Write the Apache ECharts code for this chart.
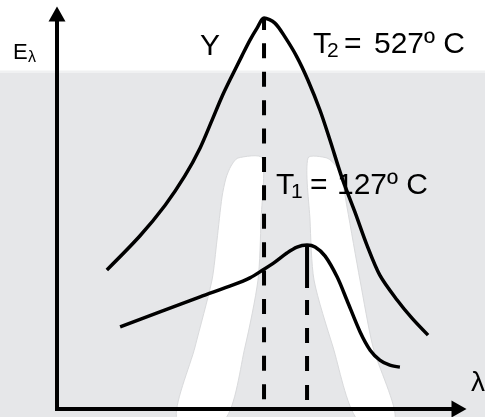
<!DOCTYPE html>
<html>
<head>
<meta charset="utf-8">
<script src="https://cdn.jsdelivr.net/npm/echarts@6/dist/echarts.min.js"></script>
<style>
  html, body { margin: 0; padding: 0; background: #fff; }
  #chart { width: 485px; height: 417px; }
</style>
</head>
<body>
<div id="chart"></div>
<script>
// Spectral emissive power E_λ against wavelength λ for two temperatures (arbitrary units)
const lambdaT2   = [1.24, 2.06, 2.69, 3.18, 3.56, 3.86, 4.10, 4.35, 4.60, 4.80, 4.98, 5.15, 5.42, 5.67, 5.97, 6.24, 6.54, 6.79, 7.09, 7.41, 7.71, 8.03, 8.46, 8.83, 9.23];
const emissionT2 = [3.52, 4.38, 5.16, 5.90, 6.61, 7.32, 7.90, 8.43, 8.94, 9.34, 9.65, 9.90, 9.77, 9.42, 8.91, 8.33, 7.57, 6.81, 5.85, 4.99, 4.15, 3.39, 2.76, 2.30, 1.87];

const lambdaT1   = [1.57, 2.56, 3.56, 4.38, 4.80, 5.12, 5.42, 5.72, 5.97, 6.22, 6.42, 6.67, 6.97, 7.21, 7.54, 7.79, 8.03, 8.28, 8.53];
const emissionT1 = [2.08, 2.46, 2.84, 3.14, 3.32, 3.52, 3.72, 3.95, 4.10, 4.15, 4.10, 3.87, 3.34, 2.76, 1.95, 1.49, 1.24, 1.11, 1.06];

// wavelength of maximum emission [T2, T1], the peak heights and where the drop lines start
const peakLambda   = [5.15, 6.22];
const peakEmission = [9.90, 4.15];
const dropBase     = [0.25, 0.23];

// text
const yAxisName  = ['E', 'λ'];
const xAxisName  = 'λ';
const peakMarker = 'Y';
const labelT2    = ['T', '2', '=', '527º C'];
const labelT1    = ['T', '1', '=', '127º C'];

const pairs = (xs, ys) => xs.map((x, i) => [x, ys[i]]);

const FONT = '"Liberation Sans", Arial, Helvetica, sans-serif';
const txt = (text, x, y, size, align, z) => ({
  type: 'text', z: z == null ? 1 : z, silent: true,
  style: {
    text: text, x: x, y: y, fill: '#000',
    font: size + 'px ' + FONT,
    align: align || 'left', verticalAlign: 'middle',
    textAlign: align || 'left', textVerticalAlign: 'middle'
  }
});

const chart = echarts.init(document.getElementById('chart'), null, { renderer: 'canvas' });

const axisCommon = {
  type: 'value', min: 0, max: 10,
  axisLine: {
    show: true, symbol: ['none', 'triangle'], symbolSize: [17, 15],
    lineStyle: { color: '#000', width: 4, cap: 'square' }
  },
  axisTick: { show: false }, axisLabel: { show: false }, splitLine: { show: false }
};

const curveStyle = { color: '#000', width: 3.5 };

chart.setOption({
  animation: false,
  backgroundColor: '#e6e7e9',
  grid: { left: 57, top: 14, width: 402, height: 395 },
  xAxis: Object.assign({}, axisCommon),
  yAxis: Object.assign({}, axisCommon),
  graphic: [
    // white band across the top
    { type: 'rect', z: -100, silent: true, shape: { x: 0, y: 0, width: 485, height: 71 }, style: { fill: '#ffffff' } },
    { type: 'rect', z: -100, silent: true, shape: { x: 0, y: 70.5, width: 485, height: 2.5 }, style: { fill: '#f0f1f2' } },
    // pale arch behind the curves
    { type: 'polygon', z: -90, silent: true,
      shape: { smooth: 0.25, points: [[238,158],[262,158],[261,220],[258,280],[245,347],[225,419],[177,419],[195,347],[212,280],[217,240],[222,197],[226,178],[231,166]] },
      style: { fill: '#ffffff', stroke: '#d9dadc', lineWidth: 1 } },
    { type: 'polygon', z: -90, silent: true,
      shape: { smooth: 0.25, points: [[308,158],[327,158],[336,166],[342,180],[347,207],[360,280],[373,347],[395,419],[357,419],[333,347],[314,280],[310,220]] },
      style: { fill: '#ffffff', stroke: '#d9dadc', lineWidth: 1 } },
    // labels
    txt(yAxisName[0], 13, 52.5, 22),
    txt(yAxisName[1], 28, 57.5, 16),
    txt(peakMarker, 210, 47, 30, 'center'),
    txt(labelT2[0], 313, 44.5, 30),
    txt(labelT2[1], 327, 51, 21),
    txt(labelT2[2], 344, 44.5, 30),
    txt(labelT2[3], 374, 44.5, 30),
    txt(labelT1[0], 276, 186, 30),
    txt(labelT1[1], 291, 192.5, 21),
    txt(labelT1[2], 310, 186, 30),
    txt(labelT1[3], 337, 186, 30),
    txt(xAxisName, 471, 383, 28)
  ],
  series: [
    { type: 'line', name: 'T2', data: pairs(lambdaT2, emissionT2), smooth: 0.3,
      showSymbol: false, symbol: 'none', silent: true, z: 3, lineStyle: curveStyle },
    { type: 'line', name: 'T1', data: pairs(lambdaT1, emissionT1), smooth: 0.3,
      showSymbol: false, symbol: 'none', silent: true, z: 3, lineStyle: curveStyle },
    // drop lines from each maximum to the λ axis, drawn upward from the base
    { type: 'line', data: [[peakLambda[0], dropBase[0]], [peakLambda[0], peakEmission[0]]],
      showSymbol: false, symbol: 'none', silent: true, z: 2,
      lineStyle: { color: '#000', width: 4, type: [15, 13.4], cap: 'butt' } },
    { type: 'line', data: [[peakLambda[1], dropBase[1]], [peakLambda[1], peakEmission[1]]],
      showSymbol: false, symbol: 'none', silent: true, z: 2,
      lineStyle: { color: '#000', width: 4, type: [15, 14, 15, 13, 15, 13, 15, 12, 60, 0], cap: 'butt' } }
  ]
});
</script>
</body>
</html>
